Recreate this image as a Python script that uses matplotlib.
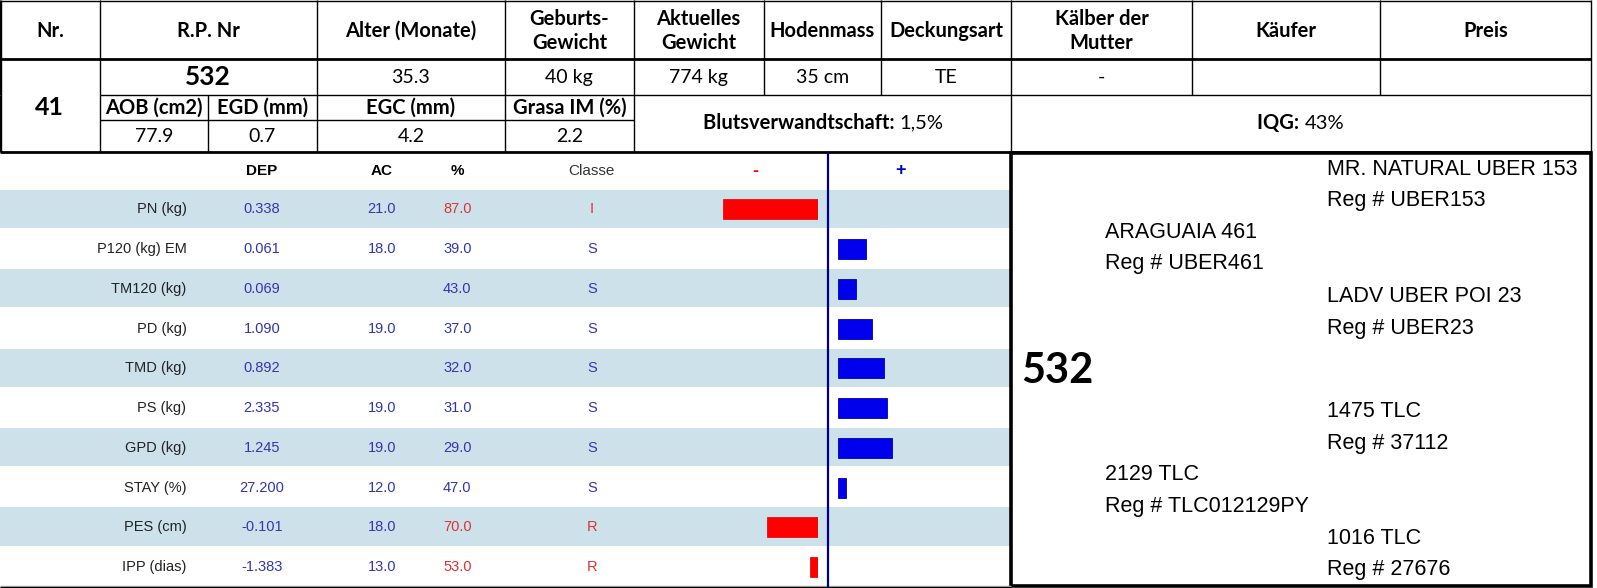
import matplotlib
matplotlib.use("Agg")
import matplotlib.pyplot as plt
from matplotlib.patches import Rectangle

# ---- data ----
header_cols = ["Nr.", "R.P. Nr", "Alter (Monate)", "Geburts-\nGewicht", "Aktuelles\nGewicht",
               "Hodenmass", "Deckungsart", "Kälber der\nMutter", "Käufer", "Preis"]
row_vals = ["532", "35.3", "40 kg", "774 kg", "35 cm", "TE", "-", "", ""]
animal_nr = "41"
carcass_cols = ["AOB (cm2)", "EGD (mm)", "EGC (mm)", "Grasa IM (%)"]
carcass_vals = ["77.9", "0.7", "4.2", "2.2"]
blut = ("Blutsverwandtschaft:", "1,5%")
iqg = ("IQG:", "43%")

traits = ["PN (kg)", "P120 (kg) EM", "TM120 (kg)", "PD (kg)", "TMD (kg)",
          "PS (kg)", "GPD (kg)", "STAY (%)", "PES (cm)", "IPP (dias)"]
dep = ["0.338", "0.061", "0.069", "1.090", "0.892", "2.335", "1.245", "27.200", "-0.101", "-1.383"]
ac = ["21.0", "18.0", "", "19.0", "", "19.0", "19.0", "12.0", "18.0", "13.0"]
pct = ["87.0", "39.0", "43.0", "37.0", "32.0", "31.0", "29.0", "47.0", "70.0", "53.0"]
classe = ["I", "S", "S", "S", "S", "S", "S", "S", "R", "R"]
bar_vals = [-37, 11, 7, 13, 18, 19, 21, 3, -20, -3]

pedigree = [  # (name, reg, generation)
    ("MR. NATURAL UBER 153", "Reg # UBER153", 2),
    ("ARAGUAIA 461", "Reg # UBER461", 1),
    ("LADV UBER POI 23", "Reg # UBER23", 2),
    ("1475 TLC", "Reg # 37112", 2),
    ("2129 TLC", "Reg # TLC012129PY", 1),
    ("1016 TLC", "Reg # 27676", 2),
]
ped_y = [166, 228, 291, 404, 466, 528]
animal = "532"

# ---- layout (pixel units of the sheet) ----
W, H = 1568, 577
BLUE = "#3434b4"
RED = "#dc3232"
BAND = "#cde1eb"
TOPFONT = ["Lato", "DejaVu Sans"]
CHFONT = ["Liberation Sans Narrow", "Liberation Sans", "DejaVu Sans"]
PEDFONT = ["Liberation Sans Narrow", "Liberation Sans", "DejaVu Sans"]

fig = plt.figure(figsize=(15.97, 5.88), dpi=100)
ax = fig.add_axes([0, 0, 1, 1])
ax.set_xlim(0, W)
ax.set_ylim(H, 0)
ax.axis("off")


def hline(y, x0, x1, lw=1.0, c="black"):
    ax.plot([x0, x1], [y, y], color=c, lw=lw, solid_capstyle="butt")


def vline(x, y0, y1, lw=1.0, c="black"):
    ax.plot([x, x], [y0, y1], color=c, lw=lw, solid_capstyle="butt")


# top table grid
col_x = [0, 98, 311, 496, 622, 750, 865, 993, 1170, 1355, 1562]
hline(1, 0, 1562)
hline(58, 0, 1562, lw=2)
hline(93, 98, 1562)
hline(118, 98, 622)
hline(149, 0, 1562, lw=2)
for x in col_x:
    vline(x, 0, 93)
for x in [0, 98, 204, 311, 496, 622, 993, 1562]:
    vline(x, 93, 149)
vline(1, 0, 149)

# header texts
for i, t in enumerate(header_cols):
    xc = (col_x[i] + col_x[i + 1]) / 2
    ax.text(xc, 30, t, ha="center", va="center", fontsize=14.5, fontweight="bold",
            family=TOPFONT, linespacing=1.25)

# row 2
for i, t in enumerate(row_vals):
    xc = (col_x[i + 1] + col_x[i + 2]) / 2
    big = i == 0
    ax.text(xc, 76, t, ha="center", va="center", fontsize=19 if big else 14,
            fontweight="bold" if big else "normal", family=TOPFONT)
ax.text(49, 105, animal_nr, ha="center", va="center", fontsize=18, fontweight="bold", family=TOPFONT)

sub_x = [98, 204, 311, 496, 622]
for i in range(4):
    xc = (sub_x[i] + sub_x[i + 1]) / 2
    ax.text(xc, 106, carcass_cols[i], ha="center", va="center", fontsize=14.5,
            fontweight="bold", family=TOPFONT)
    ax.text(xc, 134, carcass_vals[i], ha="center", va="center", fontsize=14, family=TOPFONT)


def two_part(xc, y, bold, normal):
    t1 = ax.text(0, y, bold + " ", ha="left", va="center", fontsize=14.5, fontweight="bold", family=TOPFONT)
    t2 = ax.text(0, y, normal, ha="left", va="center", fontsize=14.5, family=TOPFONT)
    fig.canvas.draw()
    r = fig.canvas.get_renderer()
    inv = ax.transData.inverted()
    b1 = t1.get_window_extent(r)
    b2 = t2.get_window_extent(r)
    w1 = inv.transform((b1.x1, 0))[0] - inv.transform((b1.x0, 0))[0]
    w2 = inv.transform((b2.x1, 0))[0] - inv.transform((b2.x0, 0))[0]
    x0 = xc - (w1 + w2) / 2
    t1.set_x(x0)
    t2.set_x(x0 + w1)


two_part(808, 121, *blut)
two_part(1277, 121, *iqg)

# ---- trait chart ----
top0, pitch = 186, 39
n = len(traits)
for i in range(n):
    if i % 2 == 0:
        ax.add_patch(Rectangle((0, top0 + i * pitch), 993, pitch - 1.5, color=BAND, lw=0))
hline(575.5, 0, 993, lw=1, c="#bbbbbb")
hline(576.5, 0, 993, lw=1)
for x in [98, 311, 496, 750, 865]:
    vline(x, 576, H)

ax.text(257, 168, "DEP", ha="center", va="center", fontsize=11, fontweight="bold", family=CHFONT)
ax.text(375, 168, "AC", ha="center", va="center", fontsize=11, fontweight="bold", family=CHFONT)
ax.text(449, 168, "%", ha="center", va="center", fontsize=11, fontweight="bold", family=CHFONT)
ax.text(581, 168, "Classe", ha="center", va="center", fontsize=11, color="#333333", family=CHFONT)
ax.text(742, 168, "-", ha="center", va="center", fontsize=13, fontweight="bold", color="#ee0000", family=CHFONT)
ax.text(884, 167, "+", ha="center", va="center", fontsize=13, fontweight="bold", color="#0000cc", family=CHFONT)

for i in range(n):
    y = top0 + i * pitch + pitch / 2
    bad = classe[i] in ("I", "R")
    ax.text(183, y, traits[i], ha="right", va="center", fontsize=10.5, color="#222222", family=CHFONT)
    ax.text(257, y, dep[i], ha="center", va="center", fontsize=10.5, color=BLUE, family=CHFONT)
    ax.text(375, y, ac[i], ha="center", va="center", fontsize=10.5, color=BLUE, family=CHFONT)
    ax.text(449, y, pct[i], ha="center", va="center", fontsize=10.5, color=RED if bad else BLUE, family=CHFONT)
    ax.text(581, y, classe[i], ha="center", va="center", fontsize=10.5, color=RED if bad else BLUE, family=CHFONT)

vline(813, 149, 576, lw=1.6, c="#000080")

# bar axes: negative side ends at x=803, positive side starts at x=823
px_per_unit = 2.52
ybot, ytop = top0 + n * pitch, top0
neg_left, neg_right = 680, 803
pos_left, pos_right = 823, 990
ax_neg = fig.add_axes([neg_left / W, 1 - ybot / H, (neg_right - neg_left) / W, (ybot - ytop) / H])
ax_pos = fig.add_axes([pos_left / W, 1 - ybot / H, (pos_right - pos_left) / W, (ybot - ytop) / H])
ax_neg.set_xlim(-(neg_right - neg_left) / px_per_unit, 0)
ax_pos.set_xlim(0, (pos_right - pos_left) / px_per_unit)
neg_rows = [i + 0.5 for i, v in enumerate(bar_vals) if v < 0]
neg = [v for v in bar_vals if v < 0]
pos_rows = [i + 0.5 for i, v in enumerate(bar_vals) if v > 0]
pos = [v for v in bar_vals if v > 0]
ax_neg.barh(neg_rows, neg, height=0.5, color="#ff0000", edgecolor="#e01010", lw=0.6)
ax_pos.barh(pos_rows, pos, height=0.5, color="#0000ee", edgecolor="#0000aa", lw=0.6)
for a in (ax_neg, ax_pos):
    a.set_ylim(n, 0)
    a.axis("off")

# ---- pedigree box ----
ax.add_patch(Rectangle((993, 150), 1562 - 993, 425, fill=False, lw=2.6, ec="black"))
ax.text(1003, 364, animal, ha="left", va="center", fontsize=30, fontweight="bold", family=TOPFONT)
for (name, reg, gen), y in zip(pedigree, ped_y):
    x = 1085 if gen == 1 else 1303
    ax.text(x, y, name, ha="left", va="center", fontsize=15.5, family=PEDFONT)
    ax.text(x, y + 31, reg, ha="left", va="center", fontsize=15.5, family=PEDFONT)

fig.savefig("out.png", dpi=100)
